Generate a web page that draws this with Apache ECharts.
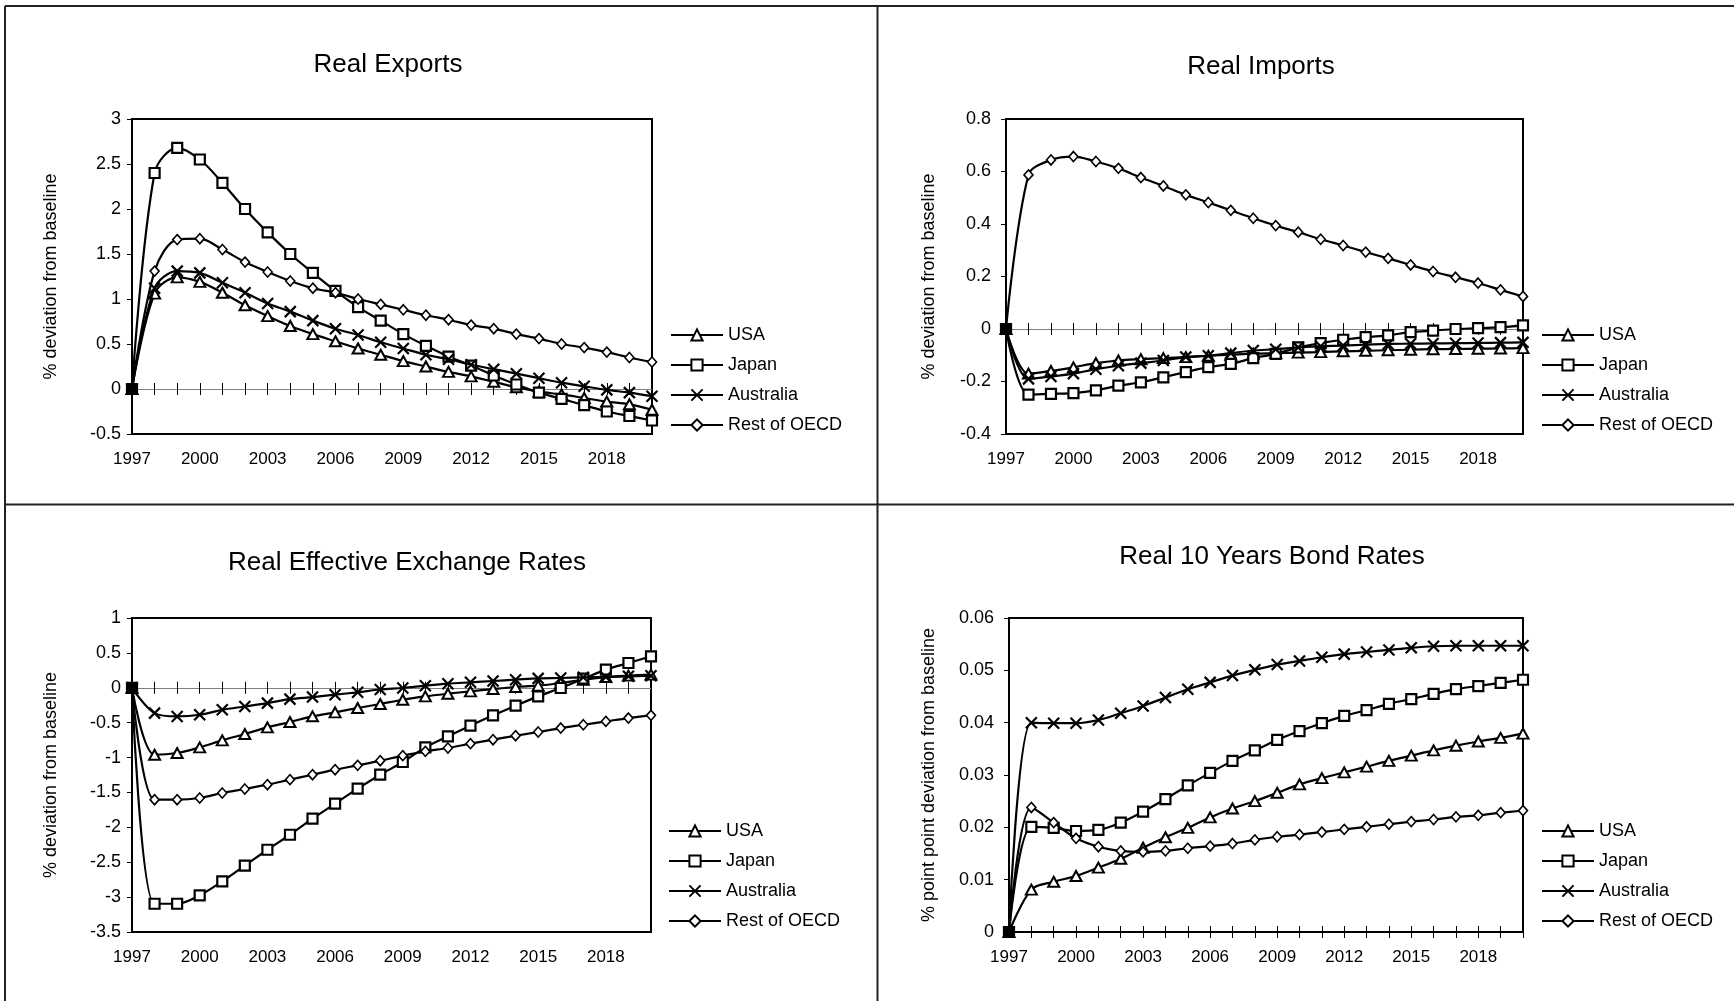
<!DOCTYPE html>
<html><head><meta charset="utf-8">
<script src="https://cdn.jsdelivr.net/npm/echarts@6/dist/echarts.min.js"></script>
<style>html,body{margin:0;padding:0;background:#fff}#c{width:1734px;height:1001px}</style>
</head><body><div id="c"></div>
<script>
const years = ['1997','1998','1999','2000','2001','2002','2003','2004','2005','2006','2007','2008','2009','2010','2011','2012','2013','2014','2015','2016','2017','2018','2019','2020'];
const seriesNames = ['USA','Japan','Australia','Rest of OECD'];

const exportsUSA = [0,1.06,1.24,1.19,1.07,0.93,0.81,0.70,0.61,0.53,0.45,0.38,0.31,0.25,0.19,0.14,0.08,0.02,-0.03,-0.06,-0.10,-0.14,-0.17,-0.23];
const exportsJapan = [0,2.40,2.68,2.55,2.29,2.00,1.74,1.50,1.29,1.09,0.91,0.76,0.61,0.48,0.36,0.26,0.15,0.05,-0.04,-0.11,-0.18,-0.25,-0.30,-0.35];
const exportsAustralia = [0,1.12,1.31,1.29,1.18,1.07,0.95,0.86,0.76,0.67,0.60,0.52,0.45,0.38,0.33,0.27,0.22,0.17,0.12,0.07,0.03,-0.01,-0.04,-0.08];
const exportsRest = [0,1.31,1.66,1.67,1.55,1.41,1.30,1.20,1.12,1.07,1.00,0.94,0.88,0.82,0.77,0.71,0.67,0.61,0.56,0.50,0.46,0.41,0.35,0.30];

const importsUSA = [0,-0.17,-0.16,-0.146,-0.13,-0.12,-0.115,-0.111,-0.107,-0.102,-0.098,-0.094,-0.092,-0.09,-0.088,-0.085,-0.083,-0.081,-0.079,-0.077,-0.076,-0.075,-0.074,-0.073];
const importsJapan = [0,-0.25,-0.247,-0.244,-0.234,-0.216,-0.203,-0.184,-0.164,-0.145,-0.133,-0.111,-0.095,-0.07,-0.054,-0.041,-0.031,-0.024,-0.012,-0.006,0.0,0.003,0.007,0.014];
const importsAustralia = [0,-0.19,-0.181,-0.170,-0.153,-0.140,-0.130,-0.120,-0.107,-0.102,-0.092,-0.082,-0.077,-0.070,-0.066,-0.063,-0.060,-0.057,-0.056,-0.055,-0.054,-0.053,-0.052,-0.051];
const importsRest = [0,0.587,0.644,0.657,0.638,0.612,0.577,0.545,0.511,0.482,0.452,0.422,0.394,0.369,0.342,0.318,0.293,0.269,0.244,0.219,0.197,0.175,0.149,0.124];

const reerUSA = [0,-0.96,-0.935,-0.854,-0.754,-0.663,-0.568,-0.491,-0.409,-0.352,-0.290,-0.233,-0.171,-0.123,-0.085,-0.051,-0.018,0.011,0.030,0.068,0.116,0.154,0.174,0.188];
const reerJapan = [0,-3.095,-3.095,-2.975,-2.775,-2.55,-2.321,-2.106,-1.876,-1.661,-1.446,-1.246,-1.064,-0.854,-0.696,-0.543,-0.395,-0.257,-0.123,-0.003,0.13,0.26,0.355,0.45];
const reerAustralia = [0,-0.363,-0.411,-0.387,-0.316,-0.268,-0.220,-0.163,-0.133,-0.099,-0.065,-0.025,-0.003,0.030,0.059,0.078,0.097,0.116,0.135,0.14,0.15,0.154,0.164,0.173];
const reerRest = [0,-1.604,-1.604,-1.58,-1.508,-1.451,-1.389,-1.317,-1.246,-1.174,-1.112,-1.045,-0.973,-0.911,-0.863,-0.801,-0.744,-0.687,-0.634,-0.577,-0.53,-0.482,-0.434,-0.395];

const bondUSA = [0,0.0081,0.0096,0.0107,0.0123,0.0140,0.0161,0.0181,0.0199,0.0219,0.0236,0.0250,0.0266,0.0282,0.0294,0.0305,0.0316,0.0327,0.0337,0.0347,0.0356,0.0364,0.0371,0.0379];
const bondJapan = [0,0.0201,0.0199,0.0193,0.0195,0.0209,0.0230,0.0254,0.0280,0.0304,0.0327,0.0347,0.0367,0.0384,0.0399,0.0413,0.0424,0.0436,0.0445,0.0455,0.0464,0.0470,0.0476,0.0482];
const bondAustralia = [0,0.0400,0.0399,0.0399,0.0405,0.0418,0.0432,0.0448,0.0464,0.0477,0.0490,0.0501,0.0511,0.0518,0.0525,0.0531,0.0535,0.0539,0.0543,0.0546,0.0547,0.0547,0.0547,0.0547];
const bondRest = [0,0.0238,0.0209,0.0179,0.0163,0.0155,0.0153,0.0155,0.0160,0.0164,0.0169,0.0176,0.0182,0.0186,0.0191,0.0196,0.0201,0.0206,0.0211,0.0215,0.0220,0.0223,0.0228,0.0232];

const panelTitles = ['Real Exports','Real Imports','Real Effective Exchange Rates','Real 10 Years Bond Rates'];
const yNames = ['% deviation from baseline','% deviation from baseline','% deviation from baseline','% point point deviation from baseline'];
const yMins = [-0.5,-0.4,-3.5,0];
const yMaxs = [3,0.8,1,0.06];
const yIntervals = [0.5,0.2,0.5,0.01];
const panelData = [
  [exportsUSA,exportsJapan,exportsAustralia,exportsRest],
  [importsUSA,importsJapan,importsAustralia,importsRest],
  [reerUSA,reerJapan,reerAustralia,reerRest],
  [bondUSA,bondJapan,bondAustralia,bondRest]
];

// layout (styling only)
const FONT = '"Liberation Sans", Arial, Helvetica, sans-serif';
const grids = [
  {left:132, top:119, width:520, height:315},
  {left:1006, top:119, width:517, height:315},
  {left:132, top:618, width:519, height:314},
  {left:1009, top:618, width:514, height:314}
];
const legendPos = [[670,326],[1541,326],[668,822],[1541,822]];
const titlePos = [[388,65],[1261,67],[407,563],[1272,557]];
const nameGaps = [72,68,72,71];
const yLabelMargins = [11,15,11,15];
const zeroLineShow = [true,true,true,false];
const symbols = ['triangle','rect','path://M0,0L10,10M10,0L0,10','diamond'];
const symbolSizes = [[11,10],10,11,[9,10]];
const symbolBorders = [2,2.2,2.2,1.6];

const option = {
  animation:false,
  backgroundColor:'#fff',
  grid:[], xAxis:[], yAxis:[], series:[], legend:[], graphic:[]
};

grids.forEach((g,gi)=>{
  option.grid.push(Object.assign({show:true, borderColor:'#000', borderWidth:2, backgroundColor:'transparent', containLabel:false, outerBoundsMode:'none'}, g));
  option.xAxis.push({type:'category', gridIndex:gi, data:years, boundaryGap:false, position:'bottom',
    axisLine:{show:false, onZero:false}, axisTick:{show:false}, splitLine:{show:false},
    axisLabel:{interval:2, margin:17, fontSize:17, color:'#000', fontFamily:FONT}});
  option.xAxis.push({type:'category', gridIndex:gi, data:years, boundaryGap:false, position:'bottom',
    axisLine:{show:zeroLineShow[gi], onZero:true, onZeroAxisIndex:gi, lineStyle:{color:'#808080', width:1}},
    axisTick:{show:true, interval:0, length:6, inside:false, lineStyle:{color:'#000', width:1}},
    axisLabel:{show:false}, splitLine:{show:false}});
  option.xAxis.push({type:'category', gridIndex:gi, data:years, boundaryGap:false, position:'bottom',
    axisLine:{show:false, onZero:true, onZeroAxisIndex:gi},
    axisTick:{show:true, interval:0, length:6, inside:true, lineStyle:{color:'#000', width:1}},
    axisLabel:{show:false}, splitLine:{show:false}});
  option.yAxis.push({type:'value', gridIndex:gi, min:yMins[gi], max:yMaxs[gi], interval:yIntervals[gi],
    name:yNames[gi], nameLocation:'middle', nameGap:nameGaps[gi], nameRotate:90,
    nameTextStyle:{fontSize:18, color:'#000', fontFamily:FONT},
    axisLine:{show:false}, axisTick:{show:true, length:5, lineStyle:{color:'#000', width:1}},
    splitLine:{show:false},
    axisLabel:{margin:yLabelMargins[gi], fontSize:18, color:'#000', fontFamily:FONT}});
  panelData[gi].forEach((arr,si)=>{
    option.series.push({
      type:'line', name:seriesNames[si], xAxisIndex:gi*3, yAxisIndex:gi,
      data: arr.map((v,i)=> i===0 ? {value:v, itemStyle:{color:'#000'}} : v),
      smooth:0.33, showAllSymbol:true, symbol:symbols[si], symbolSize:symbolSizes[si],
      lineStyle:{color:'#000', width:2.2},
      itemStyle:{color:'#fff', borderColor:'#000', borderWidth:symbolBorders[si]},
      emphasis:{disabled:true}, z:2+si
    });
  });
  option.legend.push({show:true, orient:'vertical', left:legendPos[gi][0], top:legendPos[gi][1], padding:0,
    itemWidth:52, itemHeight:14, itemGap:12, selectedMode:false, data:seriesNames,
    textStyle:{fontSize:18, color:'#000', fontFamily:FONT}});
  option.graphic.push({type:'text', x:titlePos[gi][0], y:titlePos[gi][1], silent:true,
    style:{text:panelTitles[gi], fontSize:26, fontFamily:FONT, fill:'#000', align:'center', verticalAlign:'middle'}});
});

const frameStroke = {stroke:'#222', lineWidth:2};
option.graphic.push({type:'line', silent:true, shape:{x1:5, y1:6, x2:1734, y2:6}, style:frameStroke});
option.graphic.push({type:'line', silent:true, shape:{x1:5, y1:6, x2:5, y2:1001}, style:frameStroke});
option.graphic.push({type:'line', silent:true, shape:{x1:877.5, y1:6, x2:877.5, y2:1001}, style:frameStroke});
option.graphic.push({type:'line', silent:true, shape:{x1:5, y1:504.5, x2:1734, y2:504.5}, style:frameStroke});

const chart = echarts.init(document.getElementById('c'), null, {renderer:'canvas'});
chart.setOption(option);
</script>
</body></html>
